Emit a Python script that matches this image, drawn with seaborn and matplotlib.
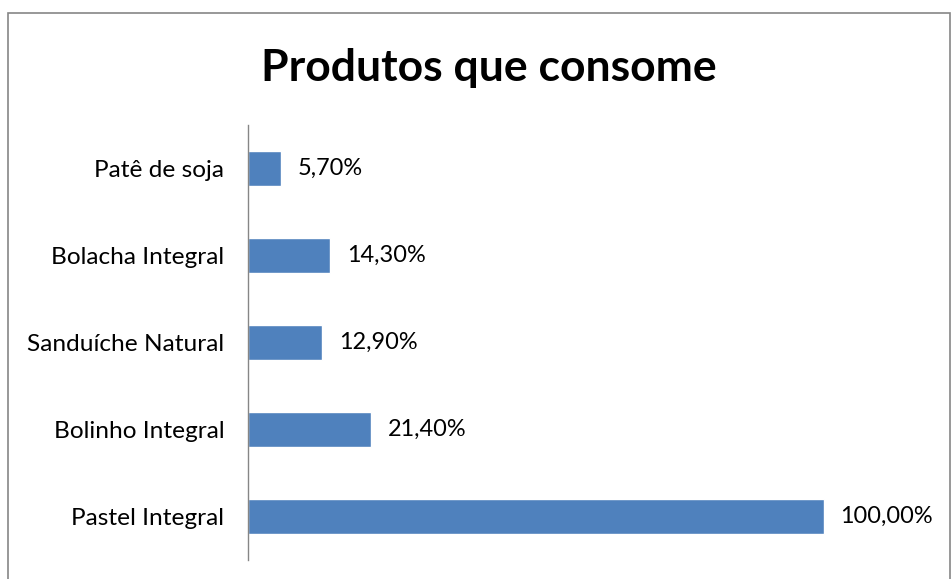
import matplotlib
matplotlib.use("Agg")
import matplotlib.pyplot as plt
import seaborn as sns
import pandas as pd
from matplotlib.patches import Rectangle

categories = ["Patê de soja", "Bolacha Integral", "Sanduíche Natural", "Bolinho Integral", "Pastel Integral"]
values = [5.70, 14.30, 12.90, 21.40, 100.00]
title = "Produtos que consome"

df = pd.DataFrame({"produto": categories, "valor": values})

sns.set_theme(style="white")
plt.rcParams["font.family"] = ["Lato", "DejaVu Sans"]

fig = plt.figure(figsize=(9.53, 5.79), dpi=100)
ax = fig.add_axes([248/953, 1-560/579, (939-248)/953, (560-125)/579])

sns.barplot(data=df, x="valor", y="produto", order=categories, color="#4F81BD",
            saturation=1, width=0.4, ax=ax)

ax.set_xlim(0, 120)
ax.set_ylim(4.5, -0.5)
ax.set_xlabel("")
ax.set_ylabel("")
ax.set_xticks([])
for s in ["top", "right", "bottom"]:
    ax.spines[s].set_visible(False)
ax.spines["left"].set_color("#868686")
ax.spines["left"].set_linewidth(1.0)
ax.tick_params(axis="y", length=0, pad=17, labelsize=17.6, labelcolor="black")

labels = [f"{v:.2f}".replace(".", ",") + "%" for v in values]
ax.bar_label(ax.containers[0], labels=labels, padding=12, fontsize=16.9, color="black")

fig.text(489/953, 1-68/579, title, ha="center", va="center", fontsize=32,
         fontweight="bold", color="black")

fig.patches.append(Rectangle((8/953, -0.05), (950-8)/953, 1.05-13/579,
                             transform=fig.transFigure, fill=False,
                             edgecolor="#868686", linewidth=1.2))

fig.savefig("out.png", dpi=100)
